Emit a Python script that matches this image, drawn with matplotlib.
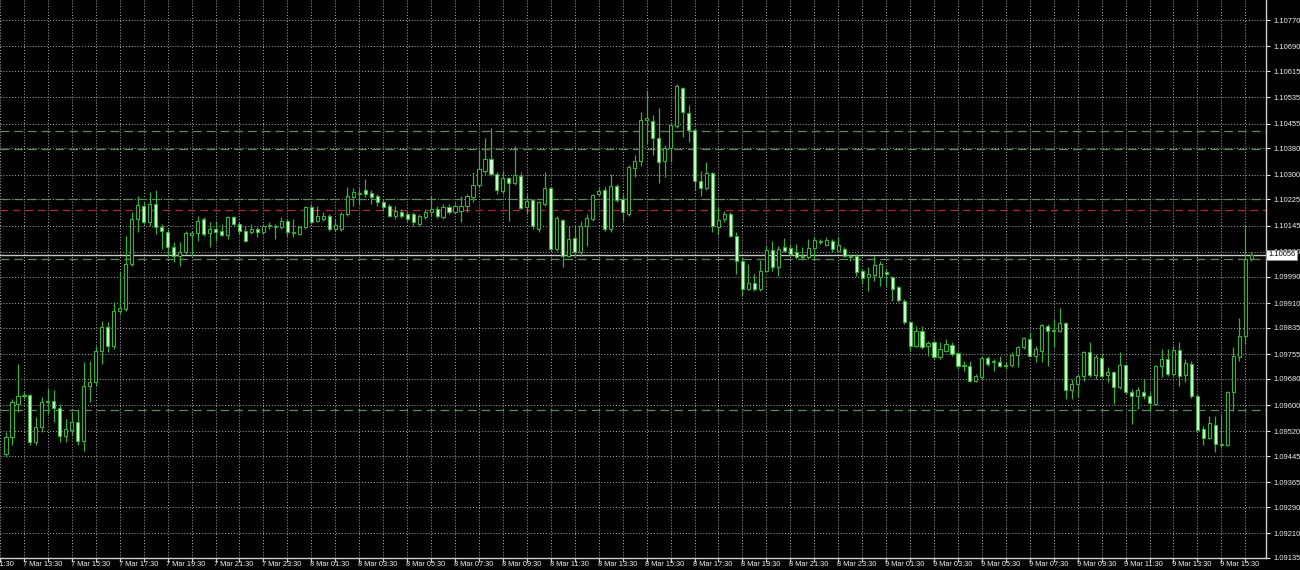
import matplotlib
matplotlib.use('Agg')

import matplotlib.pyplot as plt
import matplotlib.transforms as mtransforms
import numpy as np

plt.rcParams['font.family'] = ['Liberation Sans', 'DejaVu Sans']

# EURUSD-style M15 candles, first candle = 7 Mar 12:45
opens = [
    1.09452, 1.09504, 1.09604, 1.09628, 1.09631, 1.09489, 1.09534, 1.09610, 1.09613, 1.09592,
    1.09507, 1.09525, 1.09549, 1.09492, 1.09658, 1.09670, 1.09764, 1.09837, 1.09780, 1.09886,
    1.09892, 1.10028, 1.10164, 1.10204, 1.10155, 1.10210, 1.10140, 1.10125, 1.10080, 1.10052,
    1.10064, 1.10116, 1.10122, 1.10164, 1.10122, 1.10134, 1.10128, 1.10116, 1.10170, 1.10149,
    1.10128, 1.10125, 1.10134, 1.10125, 1.10143, 1.10140, 1.10140, 1.10158, 1.10122, 1.10119,
    1.10140, 1.10201, 1.10158, 1.10164, 1.10176, 1.10134, 1.10134, 1.10180, 1.10231, 1.10240,
    1.10252, 1.10243, 1.10234, 1.10216, 1.10204, 1.10173, 1.10186, 1.10180, 1.10180, 1.10149,
    1.10170, 1.10186, 1.10195, 1.10170, 1.10201, 1.10186, 1.10189, 1.10204, 1.10231, 1.10270,
    1.10310, 1.10349, 1.10301, 1.10249, 1.10289, 1.10276, 1.10295, 1.10201, 1.10222, 1.10134,
    1.10210, 1.10261, 1.10074, 1.10161, 1.10052, 1.10107, 1.10064, 1.10143, 1.10164, 1.10240,
    1.10252, 1.10134, 1.10267, 1.10225, 1.10180, 1.10319, 1.10343, 1.10467, 1.10464, 1.10413,
    1.10343, 1.10380, 1.10449, 1.10564, 1.10489, 1.10437, 1.10280, 1.10261, 1.10304, 1.10140,
    1.10164, 1.10180, 1.10113, 1.10037, 1.09952, 1.09971, 1.09952, 1.10007, 1.10070, 1.10019,
    1.10080, 1.10077, 1.10064, 1.10049, 1.10049, 1.10077, 1.10095, 1.10086, 1.10098, 1.10067,
    1.10074, 1.10049, 1.10052, 1.10007, 1.09989, 1.09995, 1.09989, 1.10004, 1.09989, 1.09958,
    1.09916, 1.09852, 1.09780, 1.09825, 1.09780, 1.09792, 1.09746, 1.09764, 1.09783, 1.09758,
    1.09719, 1.09719, 1.09674, 1.09686, 1.09743, 1.09731, 1.09731, 1.09719, 1.09722, 1.09752,
    1.09777, 1.09801, 1.09749, 1.09764, 1.09840, 1.09825, 1.09825, 1.09849, 1.09646, 1.09664,
    1.09689, 1.09761, 1.09692, 1.09743, 1.09692, 1.09701, 1.09655, 1.09722, 1.09640, 1.09628,
    1.09640, 1.09628, 1.09604, 1.09719, 1.09740, 1.09695, 1.09767, 1.09692, 1.09725, 1.09628,
    1.09528, 1.09501, 1.09540, 1.09477, 1.09477, 1.09640, 1.09746, 1.09810, 1.10043,
]
highs = [
    1.09519, 1.09619, 1.09725, 1.09640, 1.09634, 1.09564, 1.09625, 1.09649, 1.09646, 1.09604,
    1.09558, 1.09580, 1.09589, 1.09731, 1.09734, 1.09780, 1.09855, 1.09852, 1.09913, 1.10004,
    1.10113, 1.10186, 1.10234, 1.10216, 1.10246, 1.10255, 1.10149, 1.10134, 1.10095, 1.10095,
    1.10128, 1.10128, 1.10173, 1.10170, 1.10155, 1.10158, 1.10149, 1.10173, 1.10173, 1.10155,
    1.10143, 1.10149, 1.10140, 1.10149, 1.10155, 1.10149, 1.10170, 1.10164, 1.10164, 1.10143,
    1.10204, 1.10210, 1.10204, 1.10186, 1.10180, 1.10164, 1.10186, 1.10264, 1.10261, 1.10261,
    1.10286, 1.10255, 1.10240, 1.10225, 1.10210, 1.10204, 1.10195, 1.10189, 1.10186, 1.10180,
    1.10192, 1.10234, 1.10204, 1.10210, 1.10210, 1.10213, 1.10234, 1.10240, 1.10307, 1.10376,
    1.10413, 1.10443, 1.10307, 1.10310, 1.10292, 1.10386, 1.10307, 1.10240, 1.10225, 1.10219,
    1.10307, 1.10264, 1.10173, 1.10164, 1.10143, 1.10143, 1.10158, 1.10180, 1.10240, 1.10261,
    1.10264, 1.10301, 1.10273, 1.10240, 1.10331, 1.10361, 1.10492, 1.10558, 1.10480, 1.10504,
    1.10389, 1.10461, 1.10577, 1.10567, 1.10513, 1.10443, 1.10310, 1.10340, 1.10307, 1.10201,
    1.10189, 1.10186, 1.10125, 1.10049, 1.10028, 1.09998, 1.10040, 1.10083, 1.10098, 1.10083,
    1.10107, 1.10089, 1.10089, 1.10080, 1.10104, 1.10110, 1.10104, 1.10110, 1.10104, 1.10110,
    1.10080, 1.10058, 1.10058, 1.10013, 1.10019, 1.10052, 1.10037, 1.10013, 1.09992, 1.09961,
    1.09922, 1.09855, 1.09840, 1.09840, 1.09795, 1.09798, 1.09792, 1.09801, 1.09792, 1.09761,
    1.09734, 1.09734, 1.09695, 1.09749, 1.09749, 1.09740, 1.09749, 1.09731, 1.09761, 1.09780,
    1.09807, 1.09822, 1.09780, 1.09846, 1.09846, 1.09861, 1.09895, 1.09852, 1.09680, 1.09695,
    1.09764, 1.09792, 1.09755, 1.09755, 1.09716, 1.09704, 1.09761, 1.09725, 1.09649, 1.09655,
    1.09680, 1.09640, 1.09722, 1.09771, 1.09771, 1.09780, 1.09792, 1.09740, 1.09734, 1.09634,
    1.09537, 1.09567, 1.09567, 1.09574, 1.09643, 1.09777, 1.09864, 1.10146, 1.10064,
]
lows = [
    1.09443, 1.09477, 1.09580, 1.09619, 1.09477, 1.09477, 1.09519, 1.09574, 1.09549, 1.09489,
    1.09489, 1.09507, 1.09477, 1.09461, 1.09610, 1.09658, 1.09725, 1.09761, 1.09771, 1.09877,
    1.09886, 1.10022, 1.10125, 1.10149, 1.10143, 1.10119, 1.10074, 1.10052, 1.10034, 1.10022,
    1.10058, 1.10052, 1.10098, 1.10113, 1.10080, 1.10098, 1.10113, 1.10104, 1.10143, 1.10119,
    1.10095, 1.10119, 1.10110, 1.10119, 1.10134, 1.10104, 1.10134, 1.10113, 1.10110, 1.10116,
    1.10134, 1.10149, 1.10155, 1.10158, 1.10128, 1.10128, 1.10128, 1.10173, 1.10204, 1.10210,
    1.10231, 1.10210, 1.10204, 1.10189, 1.10170, 1.10164, 1.10167, 1.10158, 1.10143, 1.10143,
    1.10164, 1.10173, 1.10167, 1.10164, 1.10180, 1.10180, 1.10155, 1.10186, 1.10216, 1.10261,
    1.10301, 1.10295, 1.10240, 1.10240, 1.10158, 1.10270, 1.10195, 1.10180, 1.10134, 1.10125,
    1.10204, 1.10067, 1.10067, 1.10019, 1.10049, 1.10052, 1.10052, 1.10083, 1.10158, 1.10234,
    1.10128, 1.10125, 1.10216, 1.10158, 1.10173, 1.10292, 1.10325, 1.10392, 1.10361, 1.10276,
    1.10292, 1.10340, 1.10443, 1.10416, 1.10398, 1.10255, 1.10234, 1.10255, 1.10125, 1.10119,
    1.10155, 1.10110, 1.09998, 1.09931, 1.09949, 1.09946, 1.09946, 1.10004, 1.10007, 1.09992,
    1.10064, 1.10052, 1.10043, 1.10040, 1.10043, 1.10043, 1.10089, 1.10083, 1.10064, 1.10064,
    1.10049, 1.10037, 1.09992, 1.09967, 1.09946, 1.09977, 1.09961, 1.09958, 1.09916, 1.09913,
    1.09846, 1.09764, 1.09777, 1.09771, 1.09749, 1.09740, 1.09740, 1.09761, 1.09749, 1.09710,
    1.09704, 1.09670, 1.09670, 1.09680, 1.09719, 1.09704, 1.09716, 1.09710, 1.09716, 1.09716,
    1.09771, 1.09746, 1.09731, 1.09731, 1.09719, 1.09777, 1.09822, 1.09619, 1.09619, 1.09625,
    1.09674, 1.09686, 1.09680, 1.09686, 1.09670, 1.09604, 1.09649, 1.09634, 1.09543, 1.09589,
    1.09619, 1.09583, 1.09601, 1.09686, 1.09689, 1.09689, 1.09658, 1.09670, 1.09622, 1.09522,
    1.09477, 1.09498, 1.09458, 1.09468, 1.09474, 1.09583, 1.09734, 1.09786, 1.10037,
]
closes = [
    1.09504, 1.09610, 1.09628, 1.09631, 1.09489, 1.09534, 1.09610, 1.09613, 1.09592, 1.09507,
    1.09528, 1.09549, 1.09492, 1.09658, 1.09670, 1.09764, 1.09837, 1.09780, 1.09886, 1.09895,
    1.10028, 1.10164, 1.10207, 1.10155, 1.10210, 1.10140, 1.10128, 1.10080, 1.10052, 1.10064,
    1.10122, 1.10122, 1.10158, 1.10119, 1.10134, 1.10125, 1.10116, 1.10170, 1.10149, 1.10128,
    1.10098, 1.10134, 1.10125, 1.10143, 1.10146, 1.10143, 1.10158, 1.10125, 1.10125, 1.10140,
    1.10201, 1.10155, 1.10173, 1.10176, 1.10134, 1.10146, 1.10180, 1.10234, 1.10246, 1.10243,
    1.10240, 1.10231, 1.10216, 1.10201, 1.10173, 1.10189, 1.10173, 1.10164, 1.10155, 1.10173,
    1.10186, 1.10195, 1.10173, 1.10201, 1.10186, 1.10204, 1.10204, 1.10234, 1.10270, 1.10316,
    1.10349, 1.10301, 1.10252, 1.10289, 1.10276, 1.10298, 1.10198, 1.10219, 1.10143, 1.10216,
    1.10261, 1.10074, 1.10167, 1.10052, 1.10104, 1.10064, 1.10143, 1.10167, 1.10237, 1.10249,
    1.10134, 1.10267, 1.10222, 1.10186, 1.10322, 1.10343, 1.10467, 1.10473, 1.10413, 1.10340,
    1.10380, 1.10452, 1.10570, 1.10492, 1.10437, 1.10280, 1.10261, 1.10304, 1.10143, 1.10161,
    1.10180, 1.10113, 1.10037, 1.09952, 1.09971, 1.09952, 1.10007, 1.10070, 1.10019, 1.10074,
    1.10067, 1.10058, 1.10049, 1.10052, 1.10077, 1.10101, 1.10098, 1.10101, 1.10074, 1.10086,
    1.10052, 1.10052, 1.10004, 1.09986, 1.09998, 1.10025, 1.10028, 1.09998, 1.09952, 1.09919,
    1.09852, 1.09780, 1.09825, 1.09777, 1.09789, 1.09746, 1.09771, 1.09786, 1.09755, 1.09719,
    1.09722, 1.09674, 1.09689, 1.09743, 1.09725, 1.09734, 1.09719, 1.09722, 1.09752, 1.09777,
    1.09804, 1.09749, 1.09771, 1.09843, 1.09825, 1.09828, 1.09849, 1.09646, 1.09664, 1.09689,
    1.09761, 1.09692, 1.09746, 1.09689, 1.09701, 1.09655, 1.09722, 1.09640, 1.09628, 1.09646,
    1.09628, 1.09607, 1.09719, 1.09740, 1.09695, 1.09767, 1.09689, 1.09728, 1.09628, 1.09525,
    1.09501, 1.09546, 1.09483, 1.09483, 1.09640, 1.09749, 1.09810, 1.10043, 1.10056,
]

price_labels = ['1.10770', '1.10690', '1.10615', '1.10535', '1.10455', '1.10380', '1.10300',
                '1.10225', '1.10145', '1.10066', '1.09990', '1.09910', '1.09835', '1.09755',
                '1.09680', '1.09600', '1.09520', '1.09445', '1.09365', '1.09290', '1.09210',
                '1.09135']
time_labels = ['7 Mar 11:30', '7 Mar 13:30', '7 Mar 15:30', '7 Mar 17:30', '7 Mar 19:30',
               '7 Mar 21:30', '7 Mar 23:30', '8 Mar 01:30', '8 Mar 03:30', '8 Mar 05:30',
               '8 Mar 07:30', '8 Mar 09:30', '8 Mar 11:30', '8 Mar 13:30', '8 Mar 15:30',
               '8 Mar 17:30', '8 Mar 19:30', '8 Mar 21:30', '8 Mar 23:30', '9 Mar 01:30',
               '9 Mar 03:30', '9 Mar 05:30', '9 Mar 07:30', '9 Mar 09:30', '9 Mar 11:30',
               '9 Mar 13:30', '9 Mar 15:30']

# horizontal levels drawn on the chart
green_levels = [1.10432, 1.10378, 1.10225, 1.10043, 1.09586]
red_level = 1.10193

o = np.array(opens)
h = np.array(highs)
l = np.array(lows)
c = np.array(closes)
x = np.arange(len(o))

edge = '#38b038'
bull_fill = 'black'
bear_fill = '#d2fbd2'

fig = plt.figure(figsize=(13, 5.7), dpi=100, facecolor='black')
ax = fig.add_axes([0, 12 / 570, 1266 / 1300, 558 / 570])
ax.set_facecolor('black')
ax.set_xlim(-0.55, 210.45)
ax.set_ylim(1.09140, 1.10831)

# grid
grid_col = '#b0b0b0'
yt = [float(s) for s in price_labels]
for yy in yt:
        ax.axhline(yy, color=grid_col, lw=0.7, linestyle=(0, (1, 2)), zorder=1)
hours = np.arange(-1, 211, 4)
for xx in hours:
        ax.axvline(xx, color=grid_col, lw=0.7, linestyle=(0, (1, 2)), zorder=1)

# level lines
for lev in green_levels:
        ax.axhline(lev, color='#5a8c5a', lw=0.9, linestyle=(0, (7, 4)), zorder=1.5)
ax.axhline(red_level, color='#b8262b', lw=0.9, linestyle=(0, (6, 4)), zorder=1.5)
ax.axhline(c[-1], color='#c8c8c8', lw=1.0, zorder=1.6)

# candles
ax.vlines(x, l, h, color=edge, lw=0.9, zorder=3)
fills = [bull_fill if cc >= oo else bear_fill for oo, cc in zip(o, c)]
ax.bar(x, c - o, bottom=o, width=0.52, color=fills, edgecolor=edge, linewidth=0.8, zorder=4)

# axes frame
for s in ['top', 'left']:
        ax.spines[s].set_visible(False)
for s in ['right', 'bottom']:
        ax.spines[s].set_color('#d0d0d0')
        ax.spines[s].set_linewidth(1.0)

ax.yaxis.tick_right()
ax.set_yticks(yt)
ax.set_yticklabels(price_labels)
ax.tick_params(axis='y', colors='#e8e8e8', labelcolor='#f0f0f0', length=3, width=0.8,
               labelsize=5.4, pad=2)
ax.set_xticks(hours)
ax.set_xticklabels([])
ax.tick_params(axis='x', colors='#d0d0d0', length=3, width=0.8)

trans = ax.get_xaxis_transform()
for k, lbl in enumerate(time_labels):
        ax.text(-5 + 8 * k - 0.2, -0.005, lbl, transform=trans, ha='left', va='top',
                fontsize=5.3, color='#f0f0f0', clip_on=False)

# current price box
btrans = mtransforms.blended_transform_factory(ax.transAxes, ax.transData)
ax.text(1.0 + 2 / 1266, c[-1], '%.5f' % c[-1], transform=btrans, ha='left', va='center',
        fontsize=5.4, color='black', clip_on=False, zorder=10,
        bbox=dict(facecolor='white', edgecolor='#909090', pad=1.2, linewidth=0.6))

plt.savefig('out.png', dpi=100, facecolor='black')
